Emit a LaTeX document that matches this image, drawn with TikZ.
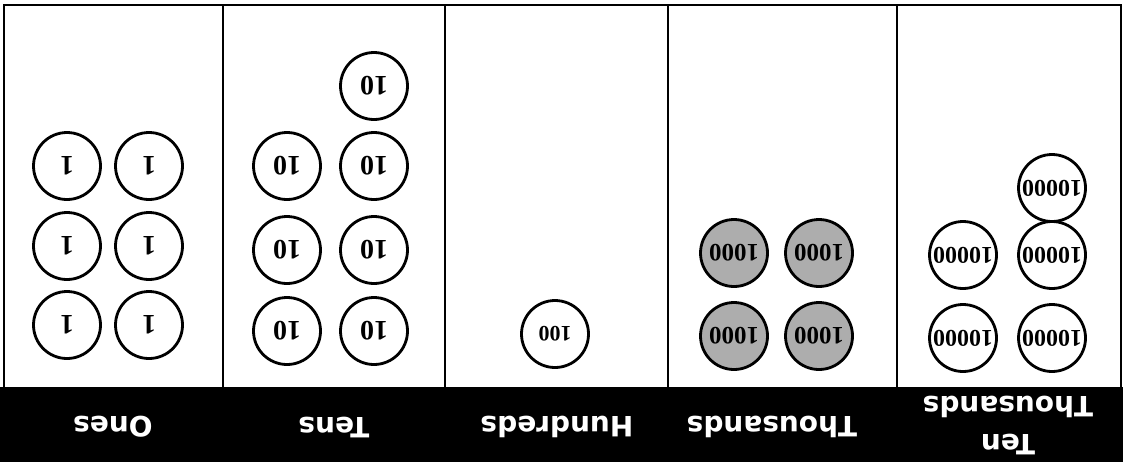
\documentclass[tikz,border=0pt]{standalone}
\usepackage{fontspec}
\setmainfont{Liberation Serif}
\newfontfamily\headfont{DejaVu Sans}
\begin{document}
\begin{tikzpicture}[x=1pt,y=-1pt,
  frame/.style={line width=2.6pt,line cap=rect},
  chip/.style={circle,draw,line width=2.8pt,minimum size=67pt,inner sep=0pt,
    rotate=180,font=\fontsize{28}{28}\selectfont\bfseries},
  graychip/.style={chip,fill=black!32},
  head/.style={text=white,rotate=180,align=center,
    font=\headfont\bfseries\fontsize{28}{38}\selectfont}]
\useasboundingbox (0,0) rectangle (1123,474);

% header band
\fill[black] (0,387) rectangle (1123,462);

% outer frame and column dividers
\draw[frame] (4,387) -- (4,5) -- (1121,5) -- (1121,387);
\foreach \x/\n in {223/a,445/b,668/c,897/d}
  \draw[frame] (\x,5) coordinate (top\n) -- (\x,387) coordinate (bot\n);

% column headings
\node[head] (hOnes) at (113,427) {Ones};
\node[head] (hTens) at (334,427) {Tens};
\node[head] (hHund) at (557,427) {Hundreds};
\node[head] (hThou) at (772,427) {Thousands};
\node[head] (hTenT) at (1008,425) {Ten\\Thousands};

% ones
\foreach \x/\i in {67/1,149/2}
  \foreach \y/\j in {166/1,246/2,325/3}
    \node[chip] (one\i\j) at (\x,\y) {1};

% tens
\foreach \x/\i in {287/1,374/2}
  \foreach \y/\j in {166/1,250/2,331/3}
    \node[chip] (ten\i\j) at (\x,\y) {10};
\node[chip] (ten20) at (374,86) {10};

% hundreds
\node[chip,font=\fontsize{22}{22}\selectfont\bfseries] (hun1) at (555,334) {100};

% thousands
\foreach \x/\i in {734/1,819/2}
  \foreach \y/\j in {253/1,336/2}
    \node[graychip,font=\fontsize{25}{25}\selectfont\bfseries] (tho\i\j) at (\x,\y) {1000};

% ten thousands
\foreach \x/\i in {963/1,1052/2}
  \foreach \y/\j in {255/1,338/2}
    \node[chip,font=\fontsize{24}{24}\selectfont\bfseries] (tt\i\j) at (\x,\y) {10000};
\node[chip,font=\fontsize{24}{24}\selectfont\bfseries] (tt20) at (1052,188) {10000};
\end{tikzpicture}
\end{document}
